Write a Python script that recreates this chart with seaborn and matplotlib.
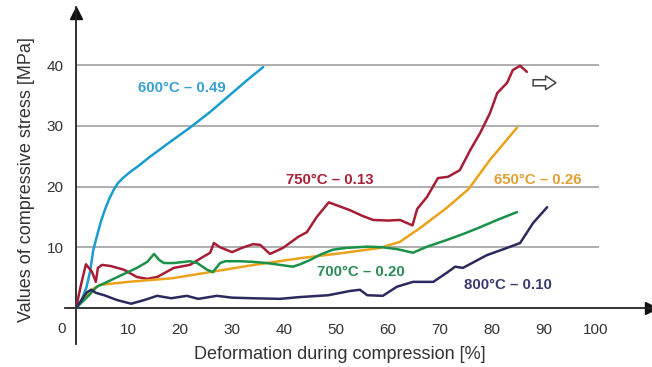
import numpy as np
import pandas as pd
import seaborn as sns
import matplotlib.pyplot as plt
from matplotlib.patches import FancyArrow

##-----Data-----##
x_600 = [0, 1.0, 2.0, 2.7, 3.3, 4.0, 4.8, 5.6, 6.4, 7.2, 8.0, 9.0, 10.4, 12, 14.2, 18, 21.9, 25.8, 29.6, 33, 36.0]
y_600 = [0, 1.2, 3.4, 6.0, 9.5, 11.8, 14.3, 16.3, 18.0, 19.4, 20.5, 21.4, 22.4, 23.4, 24.9, 27.3, 29.7, 32.3, 35.1, 37.6, 39.7]

x_750 = [0, 1.0, 1.9, 3.1, 3.8, 4.2, 5.0, 6.7, 9.2, 11.7, 13.7, 15.6, 18.8, 21.9, 24.4, 25.8,
         26.5, 27.7, 30.0, 31.9, 34.0, 35.4, 37.3, 39.8, 42.7, 44.4, 46.3, 48.6, 50.5, 52.7, 55,
         57.1, 60, 62.3, 64.7, 65.6, 67.5, 69.6, 71.5, 73.8, 75.8, 77.7, 79.6, 81.0, 82.9, 84.0,
         85.4, 86.7]
y_750 = [0, 4.0, 7.2, 5.9, 4.3, 6.6, 7.1, 6.9, 6.3, 5.1, 4.8, 5.1, 6.6, 7.1, 8.4, 9.1,
         10.7, 10.0, 9.2, 9.9, 10.5, 10.4, 8.9, 9.9, 11.7, 12.5, 15.0, 17.4, 16.8, 16.1, 15.2,
         14.5, 14.4, 14.5, 13.6, 16.3, 18.3, 21.4, 21.6, 22.7, 26.0, 28.8, 32.1, 35.4, 37.1, 39.2,
         39.9, 38.9]

x_650 = [0, 1.5, 3.0, 4.0, 4.6, 10, 18.5, 25, 33.5, 43.1, 50.8, 58.5, 62.3, 66.2, 71.3, 75.5, 79.6, 84.8]
y_650 = [0, 1.5, 3.0, 3.5, 3.8, 4.3, 4.9, 5.8, 7.0, 8.2, 9.0, 9.9, 10.9, 13.2, 16.5, 19.6, 24.4, 29.7]

x_700 = [0, 1.2, 2.5, 4.0, 6.0, 8.7, 11.7, 13.7, 15.0, 16.0, 16.9, 18.8, 21.9, 23.3, 25.2, 26.3,
         27.7, 28.7, 31.5, 34.0, 36.7, 39.2, 41.7, 43.1, 45.0, 47.0, 49.4, 52, 56.0, 59, 61.7,
         64.8, 67.5, 71.3, 74.5, 77.7, 81, 84.8]
y_700 = [0, 1.0, 2.1, 3.5, 4.3, 5.4, 6.6, 7.6, 8.9, 7.9, 7.4, 7.4, 7.7, 7.4, 6.3, 5.9,
         7.4, 7.7, 7.7, 7.6, 7.4, 7.1, 6.8, 7.2, 7.9, 8.8, 9.6, 9.9, 10.1, 10.0, 9.7,
         9.1, 10.1, 11.2, 12.2, 13.3, 14.5, 15.8]

x_800 = [0, 1.2, 2.1, 2.9, 3.8, 5.4, 7.9, 10.6, 13.1, 15.6, 18.3, 21.3, 23.5, 27.1, 30, 34, 39.2,
         43.1, 48.5, 52.7, 54.6, 56, 59, 61.7, 64.8, 68.7, 71.3, 72.9, 74.4, 79.0, 82.9, 85.4,
         87.9, 90.6]
y_800 = [0, 1.5, 2.6, 3.0, 2.5, 2.1, 1.3, 0.7, 1.3, 2.0, 1.6, 2.0, 1.5, 2.0, 1.7, 1.6, 1.5,
         1.8, 2.1, 2.8, 3.0, 2.1, 2.0, 3.5, 4.3, 4.3, 5.8, 6.8, 6.6, 8.7, 9.9, 10.7,
         14.0, 16.6]

series_names = ["600", "750", "650", "700", "800"]
labels = ["600°C – 0.49", "750°C – 0.13", "650°C – 0.26", "700°C – 0.20", "800°C – 0.10"]
label_pos = [(20.4, 36.3), (48.7, 21.1), (88.8, 21.1), (54.8, 5.9), (83.1, 3.8)]
line_colors = ["#1b9ccf", "#a61e35", "#eba21c", "#1a9148", "#2a2a5e"]
text_colors = ["#3aa0d2", "#a52238", "#e2a033", "#2b8c58", "#3c3b6e"]
x_ticks = [10, 20, 30, 40, 50, 60, 70, 80, 90, 100]
y_ticks = [10, 20, 30, 40]

xs = [x_600, x_750, x_650, x_700, x_800]
ys = [y_600, y_750, y_650, y_700, y_800]
df = pd.concat([pd.DataFrame({"x": x, "y": y, "s": n}) for x, y, n in zip(xs, ys, series_names)])

##-----Plot-----##
sns.set_style("white")
plt.rcParams['font.family'] = ['Liberation Sans', 'DejaVu Sans']

fig = plt.figure(figsize=(6.52, 3.67), dpi=100)
ax = fig.add_axes([0.0991, 0.0616, 0.8988, 0.918])

ax.hlines(y_ticks, 0, 100.5, color="#a8a8a8", lw=1.3, zorder=1)

sns.lineplot(data=df, x="x", y="y", hue="s", palette=dict(zip(series_names, line_colors)),
             sort=False, estimator=None, lw=1.8, legend=False, ax=ax, zorder=3)

for lab, (lx, ly), c in zip(labels, label_pos, text_colors):
    ax.text(lx, ly, lab, color=c, fontsize=10.8, fontweight="bold", ha="center", va="center")

ax.add_patch(FancyArrow(87.9, 37.1, 4.4, 0, width=1.0, head_width=2.3, head_length=2.0,
                        length_includes_head=True, fc="white", ec="#444444", lw=1.1))

ax.set_xlim(-2.2, 110.5)
ax.set_ylim(-6, 49.5)
for s in ["top", "right"]:
    ax.spines[s].set_visible(False)
ax.spines["left"].set_position(("data", 0))
ax.spines["bottom"].set_position(("data", 0))
for s in ["left", "bottom"]:
    ax.spines[s].set_color("#222222")
    ax.spines[s].set_linewidth(1.3)
ax.plot(1, 0, ">", color="#111111", ms=8, transform=ax.get_yaxis_transform(), clip_on=False)
ax.plot(0, 0.985, "^", color="#111111", ms=8, transform=ax.get_xaxis_transform(), clip_on=False)

ax.set_xticks(x_ticks)
ax.set_yticks(y_ticks)
ax.tick_params(axis="both", direction="out", length=6, width=1.1, color="#333333",
               labelsize=11, labelcolor="#333333")
ax.tick_params(axis="x", pad=5)
ax.tick_params(axis="y", pad=3)
ax.text(-2.7, -3.5, "0", fontsize=11, color="#333333", ha="center", va="center")

ax.set_xlabel("Deformation during compression [%]", fontsize=13, color="#333333")
ax.set_ylabel("Values of compressive stress [MPa]", fontsize=13, color="#333333")
ax.xaxis.set_label_coords(0.47, -0.006)
ax.yaxis.set_label_coords(-0.05, 0.49)

fig.savefig("out.png", dpi=100)
